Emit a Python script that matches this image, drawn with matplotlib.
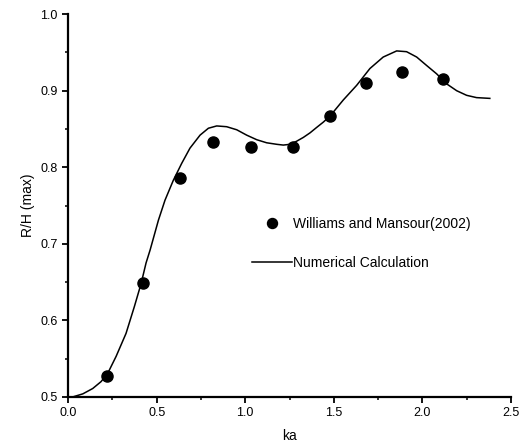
import matplotlib.pyplot as plt
from matplotlib.ticker import MultipleLocator

plt.rcParams['font.family'] = ['Liberation Sans', 'DejaVu Sans']

# measured points (Williams and Mansour 2002)
ka_exp = [0.22, 0.42, 0.63, 0.82, 1.03, 1.27, 1.48, 1.68, 1.887, 2.115]
rh_exp = [0.527, 0.649, 0.786, 0.833, 0.826, 0.826, 0.867, 0.910, 0.924, 0.915]

# numerical curve
ka_num = [0.0, 0.026, 0.083, 0.139, 0.186, 0.224, 0.271, 0.327, 0.374, 0.412, 0.440,
          0.463, 0.510, 0.547, 0.594, 0.641, 0.688, 0.745, 0.792, 0.839, 0.895, 0.952,
          1.008, 1.065, 1.121, 1.178, 1.215, 1.253, 1.290, 1.328, 1.366, 1.403, 1.441,
          1.479, 1.554, 1.629, 1.704, 1.779, 1.855, 1.911, 1.968, 2.024, 2.081, 2.137,
          2.194, 2.250, 2.306, 2.381]
rh_num = [0.500, 0.500, 0.504, 0.511, 0.520, 0.531, 0.553, 0.583, 0.618, 0.648, 0.675,
          0.692, 0.731, 0.757, 0.783, 0.805, 0.825, 0.842, 0.851, 0.854, 0.853, 0.849,
          0.842, 0.836, 0.832, 0.830, 0.829, 0.830, 0.834, 0.839, 0.845, 0.852, 0.859,
          0.867, 0.888, 0.907, 0.929, 0.944, 0.952, 0.951, 0.944, 0.933, 0.922, 0.909,
          0.900, 0.894, 0.891, 0.890]

fig = plt.figure(figsize=(5.24, 4.43), dpi=100)
ax = fig.add_axes([0.130, 0.104, 0.845, 0.864])

ax.plot(ka_exp, rh_exp, 'o', color='black', ms=8, label='Williams and Mansour(2002)')
ax.plot(ka_num, rh_num, '-', color='black', lw=1.1, label='Numerical Calculation')

ax.set_xlim(0, 2.5)
ax.set_ylim(0.5, 1.0)
ax.xaxis.set_major_locator(MultipleLocator(0.5))
ax.xaxis.set_minor_locator(MultipleLocator(0.25))
ax.yaxis.set_major_locator(MultipleLocator(0.1))
ax.yaxis.set_minor_locator(MultipleLocator(0.05))
ax.xaxis.set_major_formatter(plt.FormatStrFormatter('%.1f'))
ax.yaxis.set_major_formatter(plt.FormatStrFormatter('%.1f'))

for s in ['top', 'right']:
    ax.spines[s].set_visible(False)
for s in ['left', 'bottom']:
    ax.spines[s].set_linewidth(1.6)
ax.tick_params(which='major', direction='out', length=4, width=1.3, labelsize=9)
ax.tick_params(which='minor', direction='out', length=2.5, width=1.1)

ax.set_xlabel('ka', fontsize=10, labelpad=7)
ax.set_ylabel('R/H (max)', fontsize=10, labelpad=4)

ax.legend(loc='center left', bbox_to_anchor=(0.386, 0.401), frameon=False, fontsize=10,
          handlelength=2.9, handletextpad=0.1, labelspacing=1.85, markerscale=0.9)

fig.savefig('out.png', dpi=100)
